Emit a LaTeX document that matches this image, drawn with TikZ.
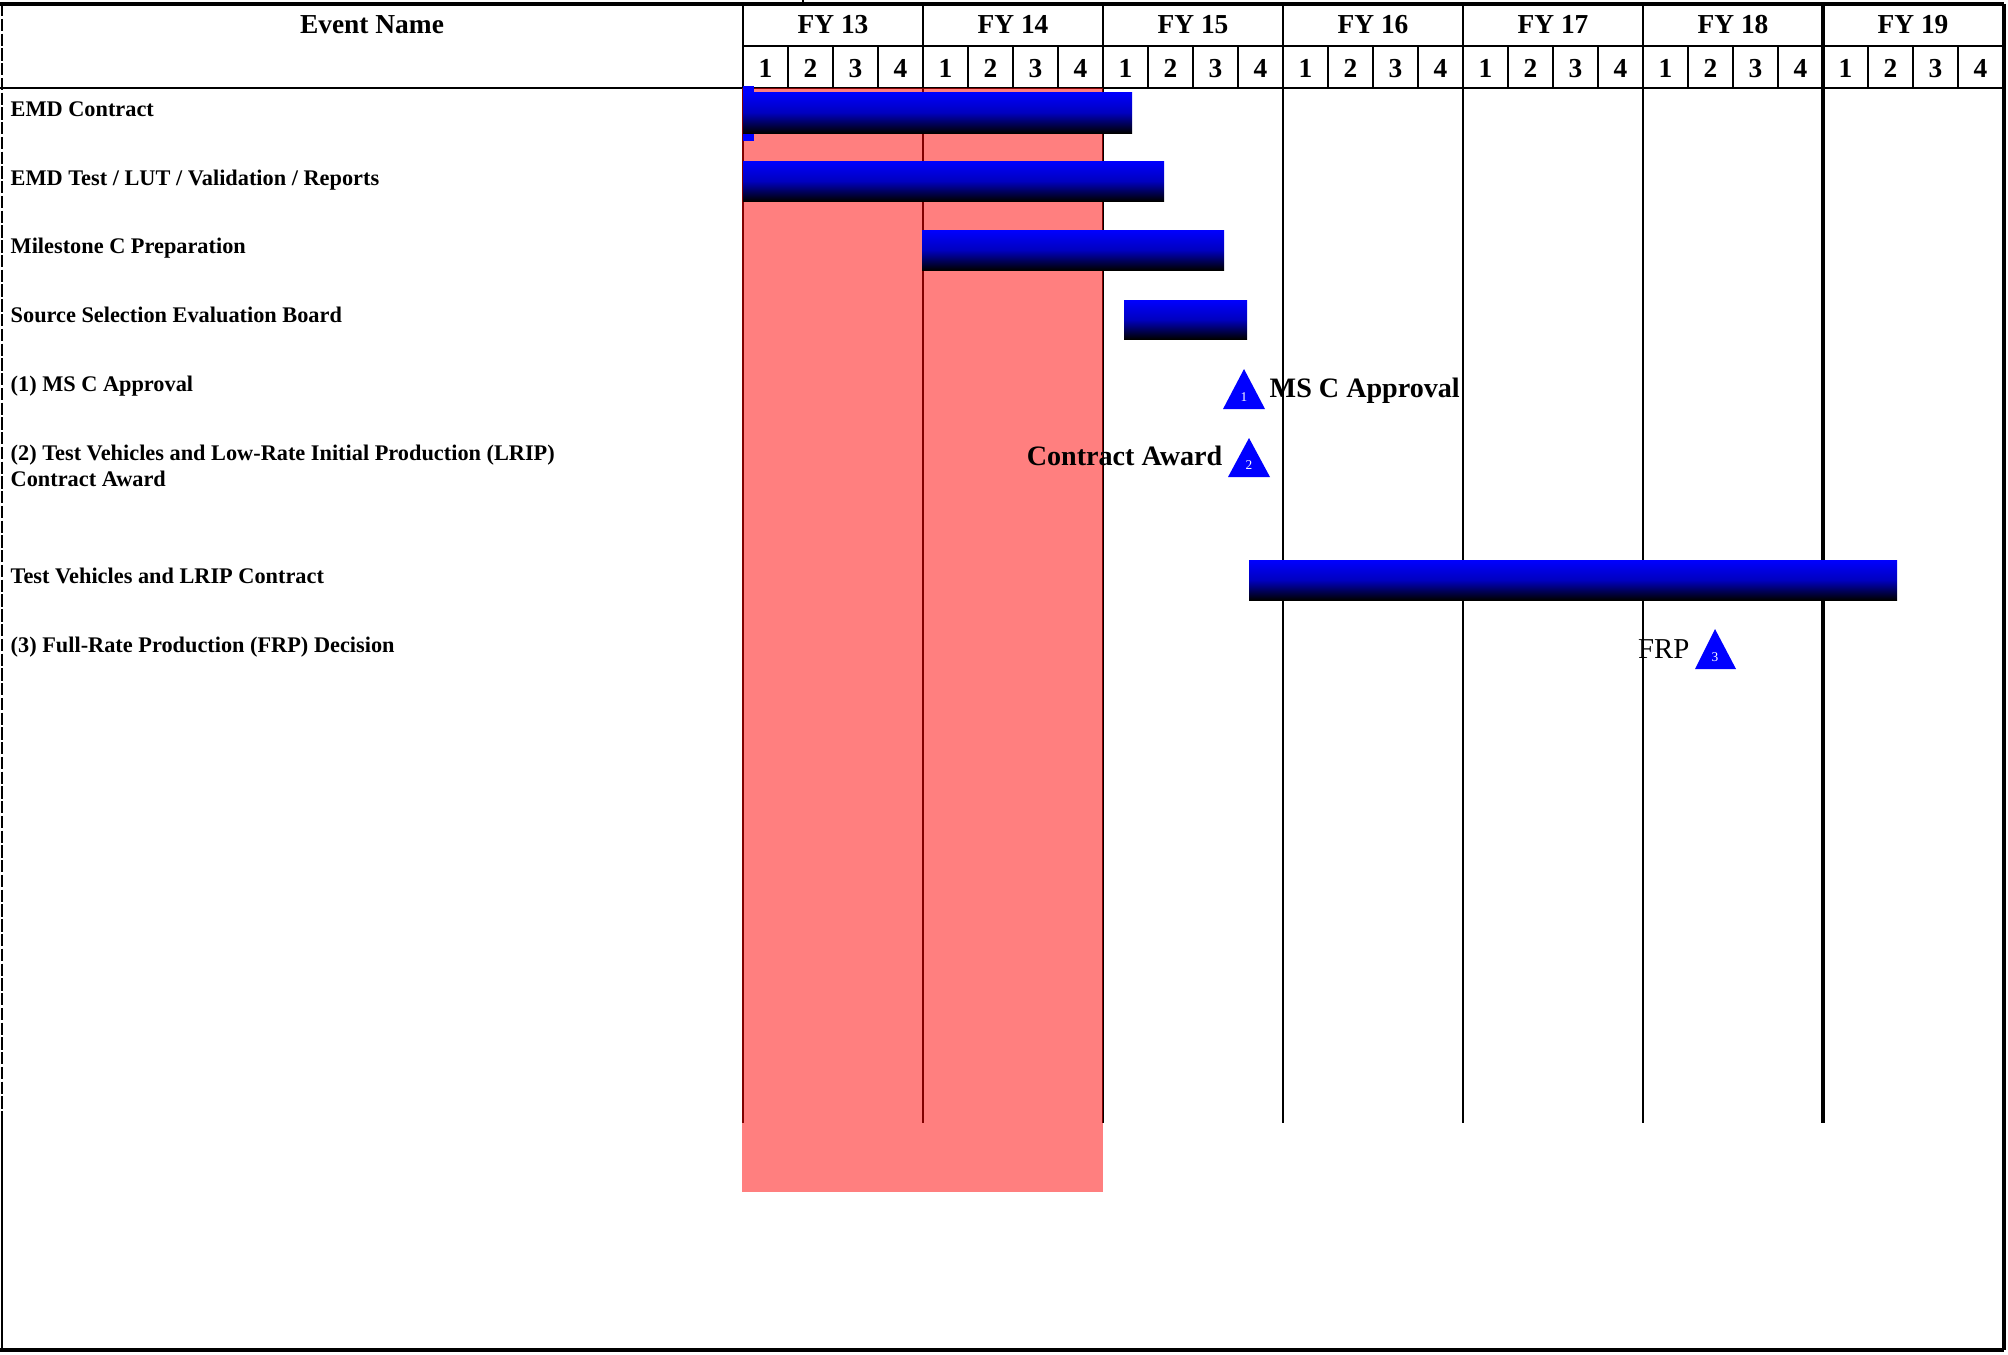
\documentclass[tikz,border=0pt]{standalone}
\usepackage{fontspec}
\setmainfont{Liberation Serif}

\begin{document}
\begin{tikzpicture}[x=0.1mm, y=-0.1mm,
  voce/.style={inner sep=0pt, anchor=base west, font=\fontsize{6.35}{7}\selectfont\bfseries},
  intest/.style={inner sep=0pt, anchor=base, font=\fontsize{7.8}{9}\selectfont\bfseries},
  barra/.style={top color=colBar, bottom color=black, middle color=colBar!75!black},
  pietra/.style={fill=colBar},
  numero/.style={inner sep=0pt, anchor=base, text=white, font=\fontsize{3.8}{4}\selectfont},
  etich/.style={inner sep=0pt, font=\fontsize{8}{9}\selectfont\bfseries},
  griglia/.style={black, line width=0.6pt}]

% Colori
\definecolor{colBar}{HTML}{0000FF}
\definecolor{colShade}{HTML}{FF0000}

% Origine della griglia e larghezza di un anno
\def\xo{743}
\def\anno{180}

\useasboundingbox (0,0) rectangle (2008,1354);

% Cornice esterna
\draw[griglia, line width=0.9pt] (0,4) -- (2004,4);
\draw[griglia, line width=1.1pt] (0,1350) -- (2004,1350);
\draw[griglia, line width=0.9pt] (2004,4) -- (2004,1350);
\draw[griglia, line width=0.5pt, dash pattern=on 3.5pt off 0.7pt] (2,4) -- (2,1117);
\draw[griglia] (2,1117) -- (2,1350);
\draw[griglia] (803,0) -- (803,4);

% Intestazione
\draw[griglia] (\xo,46) -- (2004,46);
\draw[griglia] (0,88) -- (2004,88);
\node[intest] (hdrEvent) at (372,33) {Event Name};

\foreach \i [count=\k from 0] in {13,...,19} {
  \node[intest] (fy\i) at (\xo+\k*\anno+90,33) {FY \i};
  \foreach \j in {1,...,4}
    \node[intest] (q\i-\j) at (\xo+\k*\anno+\j*45-22.5,77) {\j};
  \foreach \j in {1,2,3}
    \draw[griglia] (\xo+\k*\anno+\j*45,46) -- (\xo+\k*\anno+\j*45,88);
}

% Linee verticali degli anni
\draw[griglia] (\xo,4) -- (\xo,1123);
\foreach \k in {1,...,5}
  \draw[griglia] (\xo+\k*\anno,4) -- (\xo+\k*\anno,1123);
\draw[griglia, line width=0.9pt] (\xo+6*\anno,4) -- (\xo+6*\anno,1123);

% Periodo evidenziato (FY 13 - FY 14)
\fill[colShade, opacity=0.5] (742,88) rectangle (1103,1192);

% Voci
\node[voce] (v1) at (10,116) {EMD Contract};
\node[voce] (v2) at (10,185) {EMD Test / LUT / Validation / Reports};
\node[voce] (v3) at (10,253) {Milestone C Preparation};
\node[voce] (v4) at (10,322) {Source Selection Evaluation Board};
\node[voce] (v5) at (10,391) {(1) MS C Approval};
\node[voce] (v6) at (10,460) {(2) Test Vehicles and Low-Rate Initial Production (LRIP)};
\node[voce] (v6b) at (10,486) {Contract Award};
\node[voce] (v7) at (10,583) {Test Vehicles and LRIP Contract};
\node[voce] (v8) at (10,652) {(3) Full-Rate Production (FRP) Decision};

% Barre
\fill[colBar] (743,86) rectangle (754,141);
\shade[barra] (743,92) rectangle (1132,133);
\shade[barra] (743,161) rectangle (1164,201);
\shade[barra] (922,230) rectangle (1224,270);
\shade[barra] (1124,300) rectangle (1247,339);
\shade[barra] (1249,560) rectangle (1897,600);

% Pietre miliari
\path[pietra] (1244,369) -- (1265,409) -- (1223,409) -- cycle;
\node[numero] (m1) at (1244,401) {1};
\node[etich, anchor=base west] (lblMSC) at (1269,397) {MS C Approval};

\path[pietra] (1249,438) -- (1270,477) -- (1228,477) -- cycle;
\node[numero] (m2) at (1249,469) {2};
\node[etich, anchor=base east] (lblCA) at (1223,465) {Contract Award};

\path[pietra] (1715,629) -- (1736,669) -- (1695,669) -- cycle;
\node[numero] (m3) at (1715,661) {3};
\node[etich, anchor=base east, font=\fontsize{8.2}{9}\selectfont] (lblFRP) at (1690,658) {FRP};

\end{tikzpicture}
\end{document}
